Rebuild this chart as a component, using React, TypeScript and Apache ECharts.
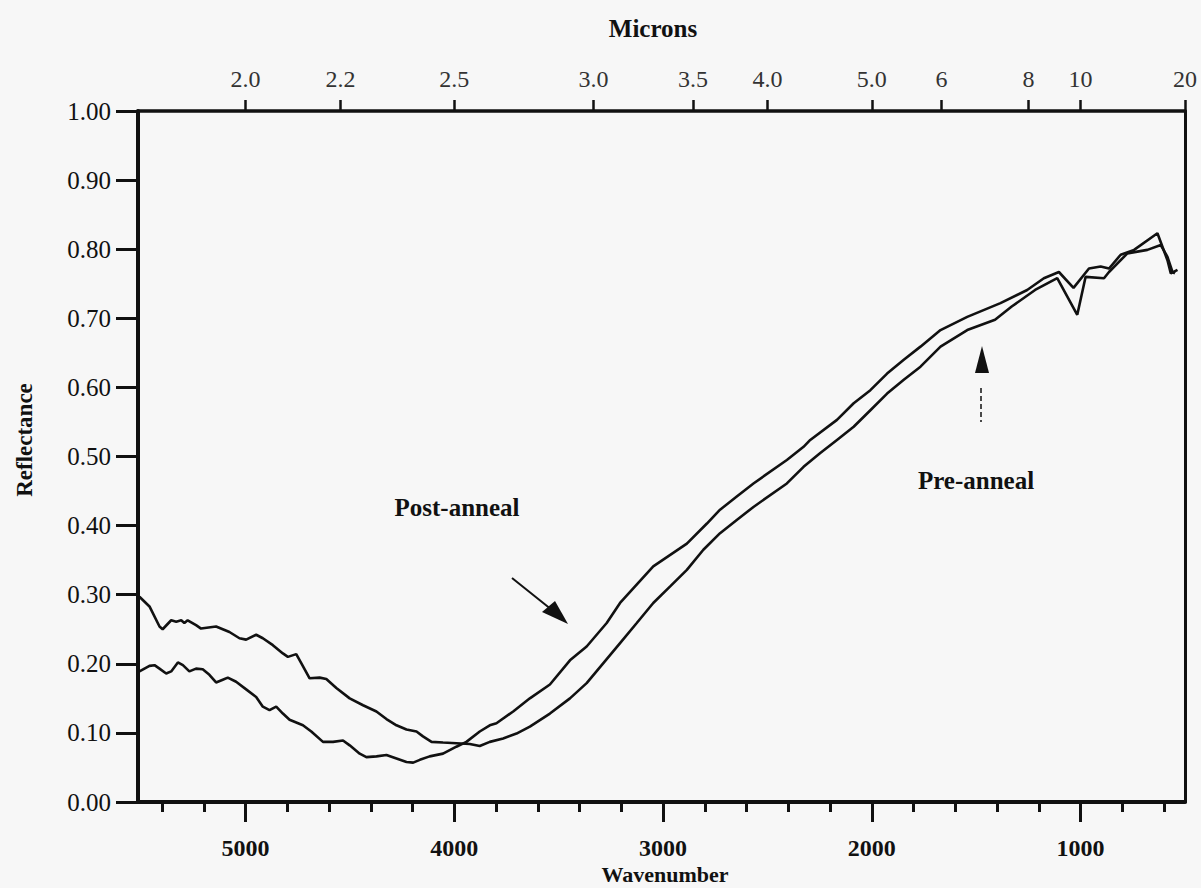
import React, { useEffect, useRef } from "react";
import * as echarts from "echarts";

// ---- data ----
const preWavenumber = [
  5508, 5460, 5412, 5397, 5356, 5332, 5308, 5293, 5277, 5237, 5213, 5141, 5077, 5029, 4997, 4949, 4917,
  4869, 4821, 4797, 4757, 4733, 4693, 4645, 4613, 4565, 4501, 4437, 4373, 4325, 4277, 4229, 4181, 4150,
  4109, 4054, 3990, 3926, 3878, 3830, 3766, 3702, 3638, 3542, 3446, 3366, 3286, 3206, 3126, 3047, 2966,
  2886, 2807, 2727, 2647, 2567, 2407, 2327, 2247, 2167, 2087, 2007, 1927, 1847, 1767, 1671, 1543, 1410,
  1330, 1218, 1112, 1016, 976, 888, 864, 776, 680, 616, 584, 560, 548,
];
const preReflectance = [
  0.297, 0.283, 0.254, 0.25, 0.263, 0.261, 0.263, 0.259, 0.263, 0.256, 0.251, 0.254, 0.246, 0.237, 0.235,
  0.242, 0.237, 0.227, 0.215, 0.21, 0.214, 0.201, 0.179, 0.18, 0.178, 0.165, 0.15, 0.14, 0.131, 0.12, 0.111,
  0.105, 0.102, 0.095, 0.087, 0.086, 0.085, 0.084, 0.081, 0.087, 0.092, 0.099, 0.109, 0.128, 0.15, 0.172,
  0.201, 0.23, 0.259, 0.288, 0.312, 0.336, 0.365, 0.389, 0.408, 0.427, 0.461, 0.485, 0.505, 0.524, 0.543,
  0.567, 0.591, 0.611, 0.63, 0.659, 0.683, 0.698, 0.717, 0.741, 0.758, 0.705, 0.76, 0.758, 0.767, 0.794,
  0.799, 0.806, 0.789, 0.767, 0.765,
];

const postWavenumber = [
  5508, 5460, 5436, 5412, 5380, 5356, 5324, 5300, 5269, 5237, 5205, 5173, 5141, 5109, 5085, 5045, 4997,
  4949, 4917, 4885, 4853, 4821, 4789, 4725, 4685, 4629, 4581, 4533, 4501, 4453, 4421, 4373, 4325, 4277,
  4229, 4197, 4165, 4118, 4054, 3990, 3942, 3878, 3830, 3798, 3718, 3638, 3542, 3446, 3366, 3270, 3206,
  3047, 2886, 2790, 2727, 2647, 2567, 2407, 2327, 2295, 2167, 2087, 2007, 1927, 1847, 1767, 1671, 1543,
  1384, 1256, 1176, 1104, 1034, 960, 904, 864, 808, 744, 632, 584, 568, 536,
];
const postReflectance = [
  0.189, 0.197, 0.198, 0.193, 0.186, 0.189, 0.202, 0.198, 0.189, 0.193, 0.192, 0.184, 0.173, 0.177, 0.18,
  0.174, 0.163, 0.152, 0.138, 0.133, 0.138, 0.128, 0.119, 0.111, 0.102, 0.087, 0.087, 0.089, 0.082, 0.07,
  0.065, 0.066, 0.068, 0.063, 0.058, 0.057, 0.061, 0.066, 0.07, 0.08, 0.087, 0.102, 0.111, 0.114, 0.131,
  0.15, 0.17, 0.205, 0.225, 0.259, 0.288, 0.341, 0.374, 0.403, 0.423, 0.442, 0.461, 0.495, 0.514, 0.524,
  0.553, 0.577, 0.596, 0.62, 0.64, 0.659, 0.683, 0.702, 0.722, 0.741, 0.758, 0.767, 0.744, 0.772, 0.775,
  0.772, 0.792, 0.799, 0.823, 0.784, 0.765, 0.77,
];

const wavenumberMajorTicks = [1000, 2000, 3000, 4000, 5000];
const wavenumberMinorTicks = [
  600, 800, 1200, 1400, 1600, 1800, 2200, 2400, 2600, 2800, 3200, 3400, 3600, 3800, 4200, 4400, 4600,
  4800, 5200, 5400,
];
const micronTickValues = [2.0, 2.2, 2.5, 3.0, 3.5, 4.0, 5.0, 6, 8, 10, 20];
const micronTickLabels = ["2.0", "2.2", "2.5", "3.0", "3.5", "4.0", "5.0", "6", "8", "10", "20"];

const X_MIN = 500;
const X_MAX = 5515;

const SERIF = '"Liberation Serif", "Times New Roman", serif';

export default function App() {
  const ref = useRef<HTMLDivElement>(null);

  useEffect(() => {
    if (!ref.current) return;
    const chart = echarts.init(ref.current, undefined, { renderer: "svg" });

    const micronPositions = micronTickValues.map((m) => 10000 / m);
    const micronFormatter = (v: number) => {
      let best = 0;
      let bestD = Infinity;
      micronPositions.forEach((p, i) => {
        const d = Math.abs(p - v);
        if (d < bestD) {
          bestD = d;
          best = i;
        }
      });
      return micronTickLabels[best];
    };

    const pre = preWavenumber.map((w, i) => [w, preReflectance[i]]);
    const post = postWavenumber.map((w, i) => [w, postReflectance[i]]);

    const ink = "#111";

    chart.setOption({
      animation: false,
      backgroundColor: "#f7f7f7",
      grid: { left: 138, right: 16, top: 111, bottom: 86, containLabel: false },
      xAxis: [
        {
          type: "value",
          position: "bottom",
          inverse: true,
          min: X_MIN,
          max: X_MAX,
          axisLine: { show: true, lineStyle: { color: ink, width: 4 } },
          axisTick: {
            show: true,
            inside: false,
            length: 20,
            lineStyle: { color: ink, width: 3 },
            customValues: wavenumberMajorTicks,
          },
          axisLabel: {
            show: true,
            customValues: wavenumberMajorTicks,
            formatter: (v: number) => String(Math.round(v)),
            margin: 34,
            color: ink,
            fontFamily: SERIF,
            fontWeight: "bold",
            fontSize: 24,
          },
          splitLine: { show: false },
        },
        {
          type: "value",
          position: "bottom",
          inverse: true,
          min: X_MIN,
          max: X_MAX,
          axisLine: { show: false },
          axisTick: {
            show: true,
            inside: false,
            length: 10,
            lineStyle: { color: ink, width: 3 },
            customValues: wavenumberMinorTicks,
          },
          axisLabel: { show: false },
          splitLine: { show: false },
        },
        {
          type: "value",
          position: "top",
          inverse: true,
          min: X_MIN,
          max: X_MAX,
          axisLine: { show: true, lineStyle: { color: ink, width: 3.5 } },
          axisTick: {
            show: true,
            inside: false,
            length: 11,
            lineStyle: { color: ink, width: 2.5 },
            customValues: micronPositions,
          },
          axisLabel: {
            show: true,
            customValues: micronPositions,
            formatter: micronFormatter,
            margin: 20,
            color: "#333",
            fontFamily: SERIF,
            fontSize: 24,
          },
          splitLine: { show: false },
        },
      ],
      yAxis: [
        {
          type: "value",
          position: "left",
          min: 0,
          max: 1,
          interval: 0.1,
          axisLine: { show: true, lineStyle: { color: ink, width: 4 } },
          axisTick: { show: true, inside: false, length: 22, lineStyle: { color: ink, width: 3 } },
          axisLabel: {
            show: true,
            margin: 27,
            color: ink,
            fontFamily: SERIF,
            fontSize: 25,
            formatter: (v: number) => v.toFixed(2),
          },
          splitLine: { show: false },
        },
        {
          type: "value",
          position: "right",
          min: 0,
          max: 1,
          axisLine: { show: true, lineStyle: { color: ink, width: 3 } },
          axisTick: { show: false },
          axisLabel: { show: false },
          splitLine: { show: false },
        },
      ],
      series: [
        {
          name: "Pre-anneal",
          type: "line",
          data: pre,
          xAxisIndex: 0,
          yAxisIndex: 0,
          showSymbol: false,
          lineStyle: { color: ink, width: 2.6 },
        },
        {
          name: "Post-anneal",
          type: "line",
          data: post,
          xAxisIndex: 0,
          yAxisIndex: 0,
          showSymbol: false,
          lineStyle: { color: ink, width: 2.6 },
        },
      ],
      graphic: [
        {
          type: "text",
          x: 653,
          y: 28,
          style: { text: "Microns", font: `bold 25px ${SERIF}`, fill: ink, align: "center", verticalAlign: "middle" },
        },
        {
          type: "text",
          x: 665,
          y: 874,
          style: { text: "Wavenumber", font: `bold 22px ${SERIF}`, fill: ink, align: "center", verticalAlign: "middle" },
        },
        {
          type: "text",
          x: 24,
          y: 440,
          rotation: Math.PI / 2,
          style: { text: "Reflectance", font: `bold 23px ${SERIF}`, fill: ink, align: "center", verticalAlign: "middle" },
        },
        {
          type: "text",
          x: 457,
          y: 507,
          style: { text: "Post-anneal", font: `bold 25px ${SERIF}`, fill: ink, align: "center", verticalAlign: "middle" },
        },
        {
          type: "text",
          x: 976,
          y: 480,
          style: { text: "Pre-anneal", font: `bold 25px ${SERIF}`, fill: ink, align: "center", verticalAlign: "middle" },
        },
        {
          type: "line",
          shape: { x1: 512, y1: 578, x2: 552, y2: 610 },
          style: { stroke: ink, lineWidth: 2 },
        },
        {
          type: "polygon",
          shape: { points: [[542, 612], [555, 601], [568, 624]] },
          style: { fill: ink },
        },
        {
          type: "polygon",
          shape: { points: [[975, 373], [989, 373], [982, 346]] },
          style: { fill: ink },
        },
        {
          type: "line",
          shape: { x1: 981, y1: 388, x2: 981, y2: 422 },
          style: { stroke: ink, lineWidth: 1.5, lineDash: [5, 3] },
        },
      ],
    });

    return () => chart.dispose();
  }, []);

  return (
    <div
      ref={ref}
      style={{ position: "absolute", left: 0, top: 0, width: 1201, height: 888, background: "#f7f7f7" }}
    />
  );
}
